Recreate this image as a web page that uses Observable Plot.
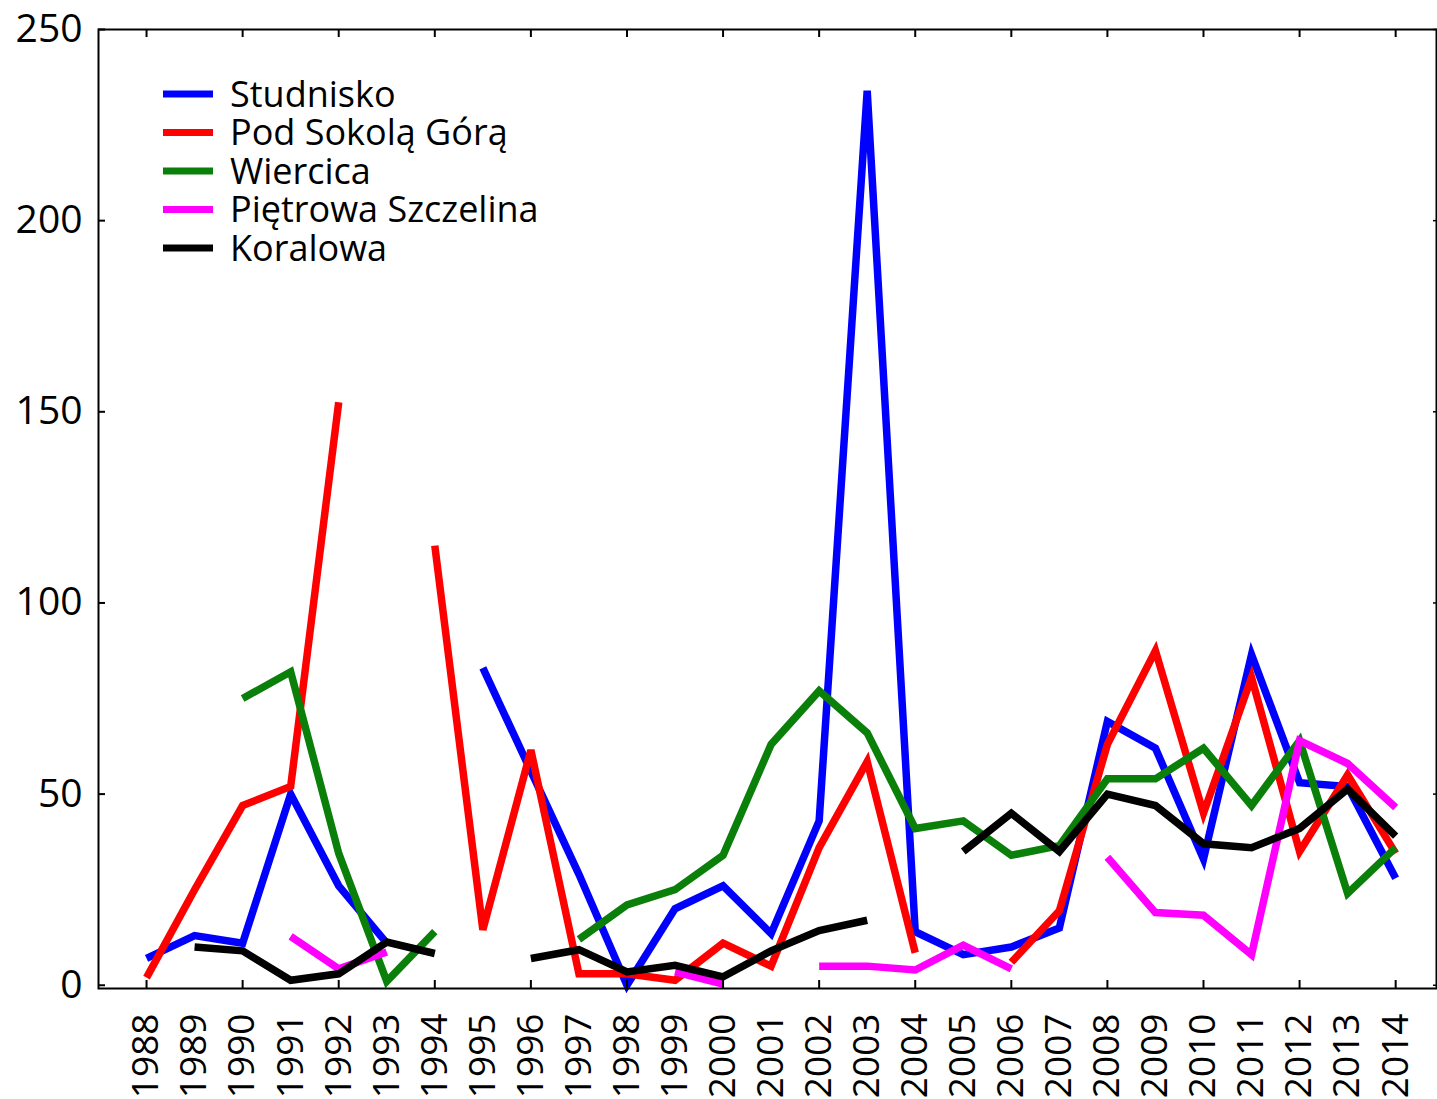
<!DOCTYPE html>
<html>
<head>
<meta charset="utf-8">
<script src="https://cdn.jsdelivr.net/npm/d3@7"></script>
<script src="https://cdn.jsdelivr.net/npm/@observablehq/plot@0.6"></script>
<style>
  html, body { margin: 0; padding: 0; background: #ffffff; }
  #chart svg { display: block; }
</style>
</head>
<body>
<div id="chart"></div>
<script>
const years = [1988, 1989, 1990, 1991, 1992, 1993, 1994, 1995, 1996, 1997, 1998, 1999, 2000, 2001,
               2002, 2003, 2004, 2005, 2006, 2007, 2008, 2009, 2010, 2011, 2012, 2013, 2014];

const studnisko = [7, 13, 11, 50, 26, 11, null, 83, 56, 29, 0, 20, 26, 13.5,
                   43, 234, 14, 8, 10, 15, 69, 62, 33, 86.5, 53, 52, 28];
const podSokolaGora = [2, 25, 47, 52, 152.5, null, 115, 14.5, 61.5, 3, 3, 1.3, 11, 5,
                       36, 58.5, 8.5, null, 6, 19.5, 63, 87.5, 45, 80.5, 35, 55, 34.5];
const wiercica = [null, null, 75, 82, 34.5, 1, 14, null, null, 12, 21, 25, 34, 63,
                  77, 66, 41, 43, 34, 36.5, 54, 54, 62, 47, 64, 24, 36];
const pietrowaSzczelina = [null, null, null, 12.8, 4.3, 8.7, null, null, null, null, null, 3.5, 0.3, null,
                           5, 5, 4, 10.5, 4.3, null, 33.5, 19, 18.3, 8, 64, 58, 46.5];
const koralowa = [null, 10, 9, 1.3, 3, 11.3, 8.3, null, 7, 9.3, 3.5, 5.2, 2.2, 9,
                  14.3, 17, null, 35, 45, 35, 50, 47, 37, 36, 41, 51.3, 39];

const seriesNames = ["Studnisko", "Pod Sokolą Górą", "Wiercica", "Piętrowa Szczelina", "Koralowa"];
const seriesColors = ["#0000ff", "#ff0000", "#0a7f0a", "#ff00ff", "#000000"];
const seriesValues = [studnisko, podSokolaGora, wiercica, pietrowaSzczelina, koralowa];

const yTicks = [0, 50, 100, 150, 200, 250];
const xTickMarks = years.filter(y => y % 2 === 0);

const rowsFor = (vals) => years.map((yr, i) => ({ year: yr, value: vals[i] == null ? NaN : vals[i] }));

const lineMarks = seriesValues.map((vals, i) =>
  Plot.lineY(rowsFor(vals), {
    x: "year", y: "value",
    stroke: seriesColors[i], strokeWidth: 7.5,
    strokeLinecap: "butt", strokeLinejoin: "miter", strokeMiterlimit: 4
  })
);

const chart = Plot.plot({
  width: 1437,
  height: 1099,
  marginLeft: 98,
  marginRight: 1,
  marginTop: 29,
  marginBottom: 111,
  x: { domain: [1987, 2014.85], axis: null },
  y: { domain: [-0.85, 250], axis: null },
  style: { fontFamily: "'Open Sans', sans-serif", background: "#ffffff", color: "#000000" },
  marks: [
    ...lineMarks,
    Plot.frame({ stroke: "#000000", strokeWidth: 2 }),
    // inward tick marks
    Plot.axisX({ anchor: "bottom", ticks: xTickMarks, tickSize: -8, strokeWidth: 2, tickFormat: () => "", label: null }),
    Plot.axisX({ anchor: "top", ticks: xTickMarks, tickSize: -7, strokeWidth: 2, tickFormat: () => "", label: null }),
    Plot.axisY({ anchor: "left", ticks: yTicks, tickSize: -7, strokeWidth: 2, tickFormat: () => "", label: null }),
    Plot.axisY({ anchor: "right", ticks: yTicks, tickSize: -4, strokeWidth: 1.5, tickFormat: () => "", label: null }),
    // labels
    Plot.axisY({ anchor: "left", ticks: yTicks, tickSize: 0, tickPadding: 16, fontSize: 39,
                 tickFormat: d => String(d), label: null, fill: "#000000" }),
    Plot.axisX({ anchor: "bottom", ticks: years, tickSize: 0, tickPadding: 25, tickRotate: -90, fontSize: 37,
                 tickFormat: d => String(d), label: null, fill: "#000000" })
  ]
});

document.getElementById("chart").appendChild(chart);

// Legend inside the plot area
const svg = d3.select(chart);
const legend = svg.append("g").attr("class", "legend").attr("text-anchor", "start");
const legendTop = 94, legendStep = 38.5;
seriesNames.forEach((name, i) => {
  const y = legendTop + i * legendStep;
  legend.append("line")
    .attr("x1", 163).attr("x2", 213)
    .attr("y1", y).attr("y2", y)
    .attr("stroke", seriesColors[i]).attr("stroke-width", 7);
  legend.append("text")
    .attr("x", 230).attr("y", y + 12.5)
    .attr("text-anchor", "start")
    .attr("font-family", "'Open Sans', sans-serif")
    .attr("font-size", 36)
    .attr("fill", "#000000")
    .text(name);
});
</script>
</body>
</html>
